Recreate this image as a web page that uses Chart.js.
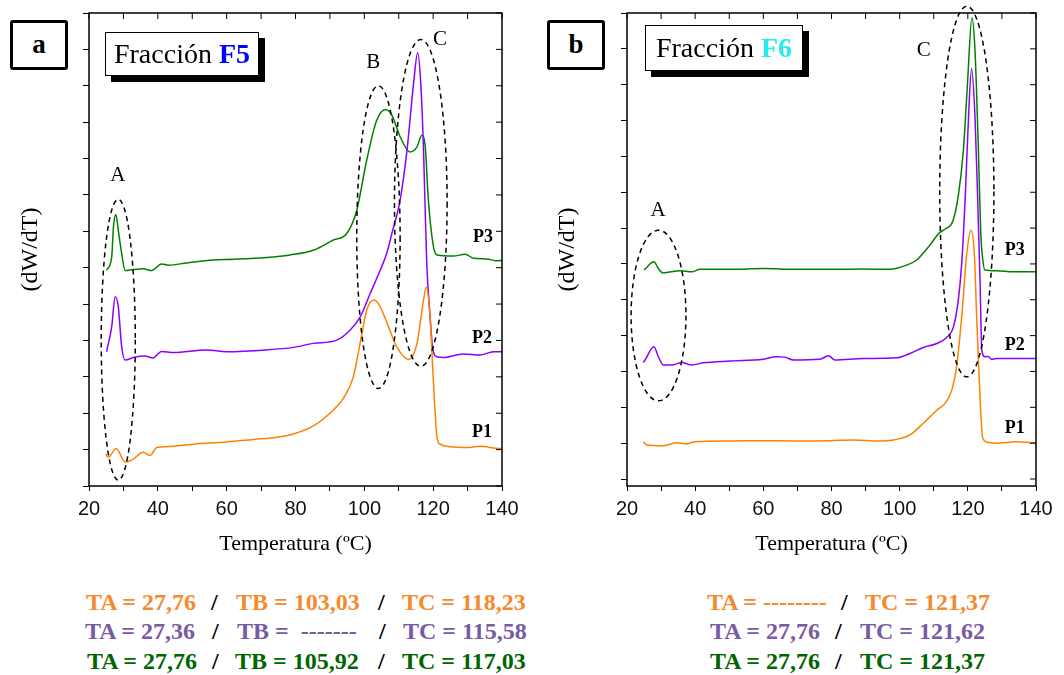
<!DOCTYPE html>
<html>
<head>
<meta charset="utf-8">
<script src="https://cdn.jsdelivr.net/npm/chart.js@4.4.0/dist/chart.umd.min.js"></script>
<style>
body { margin: 0; background: #fff; }
#page { position: relative; width: 1064px; height: 675px; overflow: hidden; font-family: "Liberation Serif", serif; }
canvas { position: absolute; top: 0; }
.tag { position: absolute; box-sizing: border-box; width: 58px; height: 50px; border: 3.5px solid #000; border-radius: 3px;
       background: #fff; font-weight: bold; font-size: 27px; text-align: center; line-height: 42px; }
.frac { position: absolute; box-sizing: border-box; border: 1px solid #000; background: #fff; box-shadow: 6px 6px 0 #000;
        font-size: 28px; text-align: center; }
.seg { position: absolute; font-weight: bold; font-size: 24px; line-height: 24px; white-space: pre; }
.or { color: #f58a2e; }
.pu { color: #7a5aa3; }
.gr { color: #006600; }
.sl { color: #000; }
</style>
</head>
<body>
<div id="page">
  <canvas id="f5" width="530" height="575" style="left:0"></canvas>
  <canvas id="f6" width="534" height="575" style="left:530px"></canvas>

  <div class="tag" style="left:10px;top:20px">a</div>
  <div class="frac" style="left:105px;top:32px;width:154px;height:44px;line-height:42px">Fracción <b style="color:#0000ff">F5</b></div>
  <div class="tag" style="left:547px;top:20px">b</div>
  <div class="frac" style="left:645px;top:25px;width:158px;height:46px;line-height:44px">Fracción <b style="color:#22eeee">F6</b></div>

  <div class="seg or" style="left:86px;top:590px">TA = 27,76</div>
  <div class="seg sl" style="left:211px;top:590px">/</div>
  <div class="seg or" style="left:236px;top:590px">TB = 103,03</div>
  <div class="seg sl" style="left:378px;top:590px">/</div>
  <div class="seg or" style="left:402px;top:590px">TC = 118,23</div>

  <div class="seg pu" style="left:85px;top:619px">TA = 27,36</div>
  <div class="seg sl" style="left:212px;top:619px">/</div>
  <div class="seg pu" style="left:237px;top:619px">TB =  -------</div>
  <div class="seg sl" style="left:379px;top:619px">/</div>
  <div class="seg pu" style="left:403px;top:619px">TC = 115,58</div>

  <div class="seg gr" style="left:87px;top:649px">TA = 27,76</div>
  <div class="seg sl" style="left:212px;top:649px">/</div>
  <div class="seg gr" style="left:235px;top:649px">TB = 105,92</div>
  <div class="seg sl" style="left:378px;top:649px">/</div>
  <div class="seg gr" style="left:402px;top:649px">TC = 117,03</div>

  <div class="seg or" style="left:707px;top:590px">TA = --------</div>
  <div class="seg sl" style="left:841px;top:590px">/</div>
  <div class="seg or" style="left:865px;top:590px">TC = 121,37</div>

  <div class="seg pu" style="left:710px;top:619px">TA = 27,76</div>
  <div class="seg sl" style="left:835px;top:619px">/</div>
  <div class="seg pu" style="left:860px;top:619px">TC = 121,62</div>

  <div class="seg gr" style="left:710px;top:649px">TA = 27,76</div>
  <div class="seg sl" style="left:835px;top:649px">/</div>
  <div class="seg gr" style="left:860px;top:649px">TC = 121,37</div>
</div>

<script>
// axis ticks (no y labels in the original)
var xTicks = [20, 30, 40, 50, 60, 70, 80, 90, 100, 110, 120, 130, 140];
var yTicks = [0, 1, 2, 3, 4, 5, 6, 7, 8, 9, 10, 11, 12, 13];

// Fraction F5 - temperature [C] and dW/dT (offset, arbitrary units)
var f5_p1_t = [24.9, 25.6, 27.9, 30.5, 32.4, 35.8, 37.7, 39.7, 42.6, 50.3, 60, 67.8, 74.6, 79.4, 85.2, 91, 93.9, 96.8, 99.3, 100.7, 102.9, 104.6, 107, 109.4, 112.8, 115.3, 117.2, 118.0, 119.1, 120.1, 121.1, 122, 124.9, 129.8, 133.6, 139.5, 140];
var f5_p1_y = [0.88, 0.79, 1.03, 0.66, 0.71, 0.93, 0.84, 1.06, 1.08, 1.15, 1.21, 1.28, 1.34, 1.43, 1.65, 2.09, 2.41, 3.0, 4.19, 4.84, 5.11, 4.93, 4.38, 3.83, 3.48, 3.92, 5.11, 5.46, 4.65, 2.82, 1.35, 1.15, 1.08, 1.06, 1.09, 1.03, 1.03];

var f5_p2_t = [25.1, 26.6, 27.6, 28.5, 29.5, 30.5, 32.9, 36.3, 38.5, 41.1, 44.5, 54.2, 60, 71.6, 79.4, 85.2, 92, 95.9, 98.8, 101.7, 104.6, 106.5, 108, 110.4, 112.4, 114.3, 115.5, 116.4, 117.2, 118.1, 119.1, 119.8, 121.1, 123.0, 128.8, 133.6, 137.5, 140];
var f5_p2_y = [3.69, 4.38, 5.2, 4.93, 3.83, 3.46, 3.53, 3.57, 3.52, 3.70, 3.67, 3.74, 3.69, 3.74, 3.81, 3.92, 4.01, 4.29, 4.65, 5.29, 5.93, 6.39, 6.94, 7.86, 9.23, 11.06, 11.91, 11.06, 9.23, 6.21, 4.65, 3.83, 3.55, 3.53, 3.63, 3.6, 3.69, 3.69];

var f5_p3_t = [25.1, 26.6, 27.1, 27.8, 28.5, 29.5, 30.5, 32.9, 35.8, 38.2, 41.1, 43.1, 48.4, 56.1, 62, 71.6, 78.4, 85.2, 91, 94.9, 97.8, 100.7, 103.6, 106.2, 108, 110.4, 113.3, 115.3, 116.7, 117.7, 118.6, 120.1, 121.1, 125.9, 129.3, 131.7, 135.6, 138.5, 140];
var f5_p3_y = [5.93, 6.30, 7.12, 7.46, 7.03, 6.39, 5.92, 5.95, 5.97, 5.92, 6.10, 6.07, 6.13, 6.21, 6.23, 6.28, 6.35, 6.48, 6.76, 6.94, 7.58, 8.96, 10.05, 10.35, 10.19, 9.6, 9.18, 9.32, 9.64, 9.32, 7.86, 6.57, 6.35, 6.32, 6.37, 6.26, 6.24, 6.19, 6.2];

// Fraction F6
var f6_p1_t = [24.8, 25.8, 30.7, 34.6, 37.5, 40, 50.2, 60, 69.8, 79.6, 86.4, 94.2, 98.2, 103, 106.9, 110.9, 113.3, 115.3, 116.7, 118.2, 119.7, 120.9, 121.9, 122.6, 123.6, 124.4, 126, 128.5, 134.1, 140];
var f6_p1_y = [1.04, 0.95, 0.93, 1.01, 0.98, 1.04, 1.06, 1.07, 1.06, 1.07, 1.09, 1.06, 1.09, 1.23, 1.55, 1.92, 2.11, 2.48, 3.13, 4.52, 6.29, 6.94, 6.29, 4.52, 2.20, 1.13, 1.02, 1.0, 1.04, 1.0];

var f6_p2_t = [24.8, 25.3, 27.9, 29.2, 30.7, 33.7, 36, 39, 42.4, 50.2, 60, 63.9, 66.3, 68.8, 76.6, 79.1, 81, 89.3, 99.1, 103, 106.9, 110.9, 113.8, 115.8, 117.2, 118.2, 119.2, 120.2, 121.1, 122.1, 122.9, 123.6, 124.1, 125, 126, 126.9, 128.5, 133.3, 140];
var f6_p2_y = [3.25, 3.32, 3.69, 3.41, 3.18, 3.19, 3.25, 3.18, 3.24, 3.29, 3.34, 3.41, 3.40, 3.32, 3.34, 3.44, 3.32, 3.36, 3.38, 3.50, 3.67, 3.78, 3.95, 4.25, 4.99, 6.01, 7.78, 10.1, 11.45, 10.1, 7.78, 5.46, 3.60, 3.41, 3.42, 3.34, 3.36, 3.36, 3.36];

var f6_p3_t = [25, 27.9, 29.2, 30.5, 35.6, 39, 41.4, 50.2, 60, 69.8, 79.6, 89.3, 97.2, 102.1, 105, 108.5, 111.8, 113.5, 115.6, 117.2, 118.7, 119.9, 121.2, 122.1, 123.1, 123.8, 124.4, 125, 128.5, 133.3, 140];
var f6_p3_y = [5.83, 6.06, 5.87, 5.75, 5.81, 5.78, 5.85, 5.85, 5.87, 5.85, 5.85, 5.86, 5.85, 5.97, 6.11, 6.48, 6.88, 6.98, 7.2, 7.9, 9.17, 11.03, 12.87, 11.96, 9.17, 6.85, 6.11, 5.83, 5.81, 5.78, 5.78];

// dashed ellipses round the peak regions: centre and half axes in data units
var f5_ellipses = [
    {cx: 28.5, cy: 4.02, rx: 4.95, ry: 3.86},
    {cx: 104.1, cy: 6.84, rx: 6.3, ry: 4.16},
    {cx: 116.4, cy: 7.78, rx: 7.65, ry: 4.49}
];
var f6_ellipses = [
    {cx: 29.25, cy: 4.56, rx: 8.05, ry: 2.38},
    {cx: 119.7, cy: 8.02, rx: 7.95, ry: 5.17}
];

var f5_labels = [
    {t: 28.4, v: 8.54, text: 'A'}, {t: 102.6, v: 11.65, text: 'B'}, {t: 122, v: 12.28, text: 'C'},
    {t: 134.5, v: 6.84, text: 'P3', bold: true}, {t: 134.2, v: 4.07, text: 'P2', bold: true}, {t: 134.2, v: 1.48, text: 'P1', bold: true}
];
var f6_labels = [
    {t: 29.1, v: 7.5, text: 'A'}, {t: 107.1, v: 11.96, text: 'C'},
    {t: 133.8, v: 6.38, text: 'P3', bold: true}, {t: 133.8, v: 3.74, text: 'P2', bold: true}, {t: 133.8, v: 1.42, text: 'P1', bold: true}
];

var line_colors = {p1: '#ff8000', p2: '#8c00ff', p3: '#008000'};

function zip(ts, ys) {
    return ts.map((t, i) => ({x: t, y: ys[i]}));
}

function series(ts, ys, color) {
    return {
        data: zip(ts, ys),
        borderColor: color,
        borderWidth: 1.5,
        pointRadius: 0,
        fill: false,
        cubicInterpolationMode: 'monotone'
    };
}

function makeOverlay(ellipses, labels) {
    return {
        id: 'overlay',
        afterDatasetsDraw(chart) {
            const {ctx, chartArea: a, scales: {x, y}} = chart;
            ctx.save();
            // frame with inward ticks on top and right
            ctx.strokeStyle = '#000';
            ctx.lineWidth = 1.5;
            ctx.strokeRect(a.left, a.top, a.right - a.left, a.bottom - a.top);
            ctx.lineWidth = 1;
            ctx.beginPath();
            xTicks.forEach(v => {
                const px = x.getPixelForValue(v);
                ctx.moveTo(px, a.top); ctx.lineTo(px, a.top + 6);
            });
            yTicks.forEach(v => {
                const py = y.getPixelForValue(v);
                ctx.moveTo(a.right, py); ctx.lineTo(a.right - 6, py);
            });
            ctx.stroke();

            ctx.lineWidth = 1.5;
            ctx.setLineDash([5, 4]);
            ellipses.forEach(e => {
                const X = x.getPixelForValue(e.cx), Y = y.getPixelForValue(e.cy);
                const RX = x.getPixelForValue(e.cx + e.rx) - X;
                const RY = Y - y.getPixelForValue(e.cy + e.ry);
                ctx.beginPath();
                ctx.ellipse(X, Y, RX, RY, 0, 0, 2 * Math.PI);
                ctx.stroke();
            });
            ctx.setLineDash([]);

            ctx.fillStyle = '#000';
            ctx.textAlign = 'center';
            ctx.textBaseline = 'middle';
            labels.forEach(l => {
                ctx.font = l.bold ? 'bold 18px "Liberation Serif"' : '21px "Liberation Serif"';
                ctx.fillText(l.text, x.getPixelForValue(l.t), y.getPixelForValue(l.v));
            });
            ctx.restore();
        }
    };
}

function makeChart(id, datasets, yMin, pad, yWidth, ellipses, labels) {
    return new Chart(document.getElementById(id), {
        type: 'line',
        data: {datasets: datasets},
        options: {
            responsive: false,
            animation: false,
            layout: {padding: pad},
            plugins: {legend: {display: false}, tooltip: {enabled: false}},
            scales: {
                x: {
                    type: 'linear', min: 20, max: 140,
                    afterBuildTicks: s => { s.ticks = xTicks.map(v => ({value: v})); },
                    afterFit: s => { s.height = 71; },
                    ticks: {
                        autoSkip: false, maxRotation: 0, padding: 6, color: '#111',
                        font: {family: '"Liberation Sans"', size: 20},
                        callback: v => (v % 20 === 0 ? String(v) : '')
                    },
                    grid: {drawOnChartArea: false, drawTicks: true, tickLength: 5, color: '#000'},
                    border: {display: false},
                    title: {
                        display: true, text: 'Temperatura (ºC)', color: '#000', padding: 0,
                        font: {family: '"Liberation Serif"', size: 22}
                    }
                },
                y: {
                    type: 'linear', min: yMin, max: 13,
                    afterBuildTicks: s => { s.ticks = yTicks.map(v => ({value: v})); },
                    afterFit: s => { s.width = yWidth; },
                    ticks: {display: false},
                    grid: {drawOnChartArea: false, drawTicks: true, tickLength: 6, color: '#000'},
                    border: {display: false},
                    title: {
                        display: true, text: '(dW/dT)', color: '#000', padding: 0,
                        font: {family: '"Liberation Serif"', size: 24}
                    }
                }
            }
        },
        plugins: [makeOverlay(ellipses, labels)]
    });
}

makeChart('f5', [
    series(f5_p1_t, f5_p1_y, line_colors.p1),
    series(f5_p2_t, f5_p2_y, line_colors.p2),
    series(f5_p3_t, f5_p3_y, line_colors.p3)
], 0, {left: 16, right: 28, top: 13, bottom: 18}, 73, f5_ellipses, f5_labels);

makeChart('f6', [
    series(f6_p1_t, f6_p1_y, line_colors.p1),
    series(f6_p2_t, f6_p2_y, line_colors.p2),
    series(f6_p3_t, f6_p3_y, line_colors.p3)
], -0.195, {left: 23, right: 28, top: 13, bottom: 18}, 74, f6_ellipses, f6_labels);
</script>
</body>
</html>
